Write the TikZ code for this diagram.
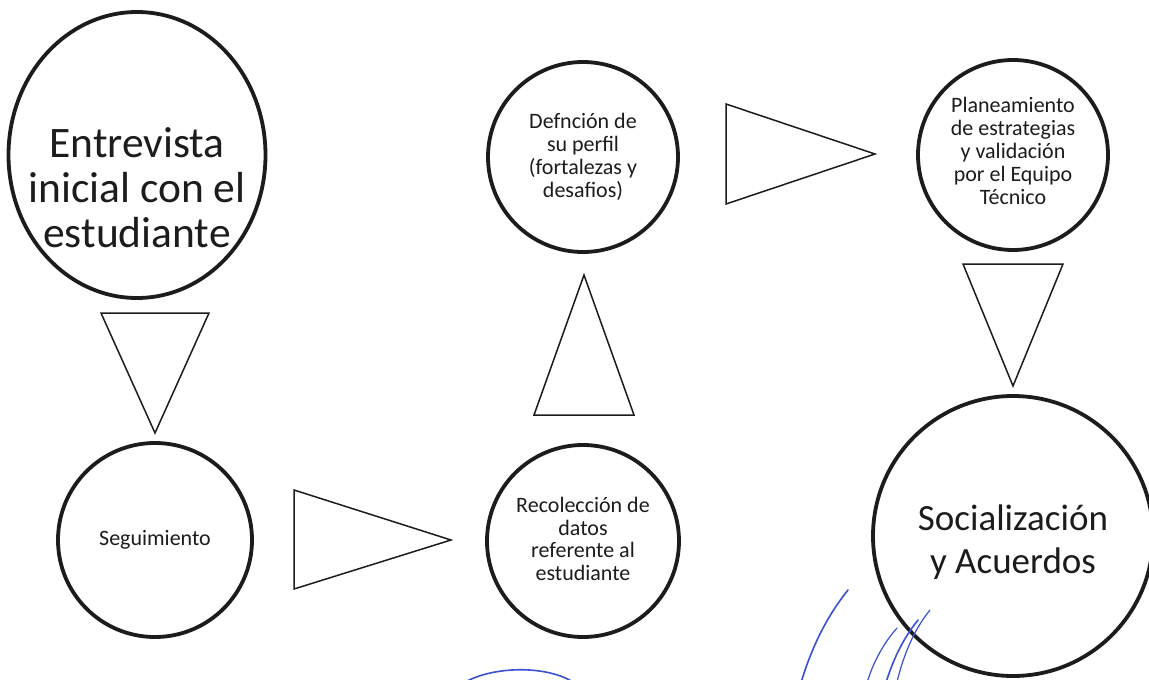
\documentclass[tikz,border=0pt]{standalone}
\usepackage{fontspec}
\setmainfont{Carlito}
\usetikzlibrary{shapes.geometric}
\definecolor{ink}{RGB}{28,28,28}
\definecolor{pen}{RGB}{60,80,210}
\tikzset{
  bubble/.style={circle, draw=ink, line width=3.8pt, inner sep=0pt},
  oval/.style={ellipse, draw=ink, line width=3.8pt, inner sep=0pt},
  smalltxt/.style={align=center, text=ink, font=\fontsize{22}{22.8}\selectfont},
  bigtxt/.style={align=center, text=ink, font=\fontsize{43.5}{45}\selectfont},
  midtxt/.style={align=center, text=ink, font=\fontsize{37}{43}\selectfont},
  tri/.style={draw=ink, line width=1.5pt, line join=miter},
  penline/.style={draw=pen, line width=1.6pt, line cap=round}
}
\begin{document}
\begin{tikzpicture}[x=1pt,y=-1pt]
\useasboundingbox (0,0) rectangle (1149,680);
\fill[white] (0,0) rectangle (1149,680);
% circles
\node[oval, minimum width=257pt, minimum height=286pt] (e1) at (137,155) {};
\node[bubble, minimum size=194pt] (seg) at (155,540) {};
\node[bubble, minimum size=192pt] (rec) at (583,541) {};
\node[bubble, minimum size=190pt] (def) at (583,157) {};
\node[bubble, minimum size=190pt] (plan) at (1013,155) {};
\node[bubble, minimum size=280pt] (soc) at (1013,536) {};
% texts
\node[bigtxt] (e1t) at (137,188) {Entrevista\\inicial con el\\estudiante};
\node[smalltxt] (segt) at (155,540) {Seguimiento};
\node[smalltxt] (rect) at (583,539) {Recolección de\\datos\\referente al\\estudiante};
\node[smalltxt] (deft) at (583,157) {Defnción de\\su perfil\\(fortalezas y\\desafios)};
\node[smalltxt] (plant) at (1013,151) {Planeamiento\\de estrategias\\y validación\\por el Equipo\\Técnico};
\node[midtxt] (soct) at (1013,542) {Socialización\\y Acuerdos};
% triangles (arrows)
\draw[tri] (101,313) -- (209,313) -- (155,433) -- cycle;
\draw[tri] (294,490) -- (451,540) -- (294,589) -- cycle;
\draw[tri] (584,275) -- (634,415) -- (534,415) -- cycle;
\draw[tri] (726,104) -- (875,154) -- (726,204) -- cycle;
\draw[tri] (963,264) -- (1063,264) -- (1013,386) -- cycle;
% pen marks from the scan
\begin{scope}
\clip (0,0) rectangle (1149,680);
\draw[penline] (462,684) .. controls (490,666) and (548,664) .. (576,684);
\draw[penline] (848,590) .. controls (828,615) and (812,645) .. (800,686);
\draw[penline, line width=1.2pt] (897,628) .. controls (882,645) and (872,665) .. (866,686);
\draw[penline] (918,620) .. controls (902,640) and (892,662) .. (885,686);
\draw[penline, line width=1.2pt] (930,610) .. controls (912,632) and (902,660) .. (896,686);
\end{scope}
\end{tikzpicture}
\end{document}
